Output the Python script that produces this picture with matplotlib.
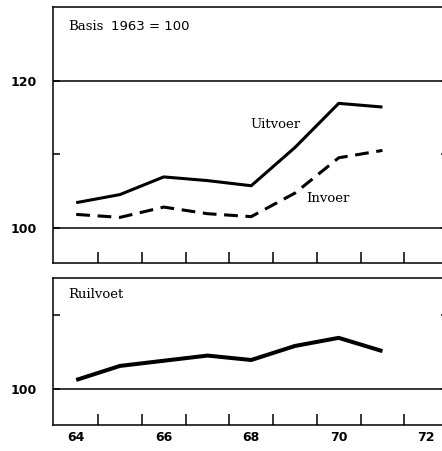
import matplotlib
matplotlib.use("Agg")
import matplotlib.pyplot as plt

# Annual index figures, base 1963 = 100
years = [64, 65, 66, 67, 68, 69, 70, 71]
uitvoer = [103.4, 104.5, 106.9, 106.4, 105.7, 110.9, 116.9, 116.4]
invoer = [101.8, 101.4, 102.8, 101.9, 101.5, 104.7, 109.5, 110.5]
ruilvoet = [101.2, 103.1, 103.8, 104.5, 103.9, 105.8, 106.9, 105.1]

year_ticks = [64.5, 65.5, 66.5, 67.5, 68.5, 69.5, 70.5, 71.5]
year_labels = [64, 66, 68, 70, 72]

num_font = dict(family="DejaVu Sans", weight="bold", size=9)
word_font = dict(family="DejaVu Serif", size=9.5)

fig = plt.figure(figsize=(4.42, 4.51), dpi=100)
ax1 = fig.add_axes([0.12, 0.4169, 0.8937, 0.5676])
ax2 = fig.add_axes([0.12, 0.0576, 0.8937, 0.3260])

XLIM = (63.47, 72.5)
LW_SPINE = 1.1

for ax in (ax1, ax2):
    ax.set_xlim(*XLIM)
    for side in ("left", "bottom", "top"):
        ax.spines[side].set_linewidth(LW_SPINE)
    ax.spines["right"].set_visible(False)
    ax.set_xticks(year_ticks)
    ax.set_xticklabels([])
    ax.tick_params(axis="x", direction="in", length=8, width=1.1, bottom=True, top=False)
    ax.axhline(100, color="black", lw=1.1)

# Upper panel: exports and imports
ax1.set_ylim(95.2, 130)
ax1.axhline(120, color="black", lw=1.1)
ax1.set_yticks([100, 110, 120])
ax1.set_yticklabels(["100", "", "120"], fontdict=num_font)
ax1.tick_params(axis="y", direction="in", length=5, width=1.1, pad=12, right=True)
ax1.plot(years, uitvoer, color="black", lw=2.2, solid_capstyle="butt")
ax1.plot(years, invoer, color="black", lw=2.2, dashes=(4.5, 2.5), dash_capstyle="butt")
ax1.text(63.82, 127.3, "Basis", fontdict=word_font, va="center")
ax1.text(64.8, 127.3, "1963 = 100", fontdict=dict(family="DejaVu Sans", size=9.5),
         va="center")
ax1.text(68.55, 114.0, "Uitvoer", fontdict=word_font, va="center", ha="center")
ax1.text(69.76, 104.0, "Invoer", fontdict=word_font, va="center", ha="center")

# Lower panel: terms of trade
ax2.set_ylim(95.1, 115)
ax2.set_yticks([100, 110])
ax2.set_yticklabels(["100", ""], fontdict=num_font)
ax2.tick_params(axis="y", direction="in", length=5, width=1.1, pad=12, right=True)
ax2.plot(years, ruilvoet, color="black", lw=2.9, solid_capstyle="butt")
ax2.text(63.82, 112.8, "Ruilvoet", fontdict=word_font, va="center")

# Year labels below the lower panel
for y in year_labels:
    ax2.text(y, 93.4, str(y), fontdict=num_font, ha="center", va="center")

fig.savefig("out.png", dpi=100)
